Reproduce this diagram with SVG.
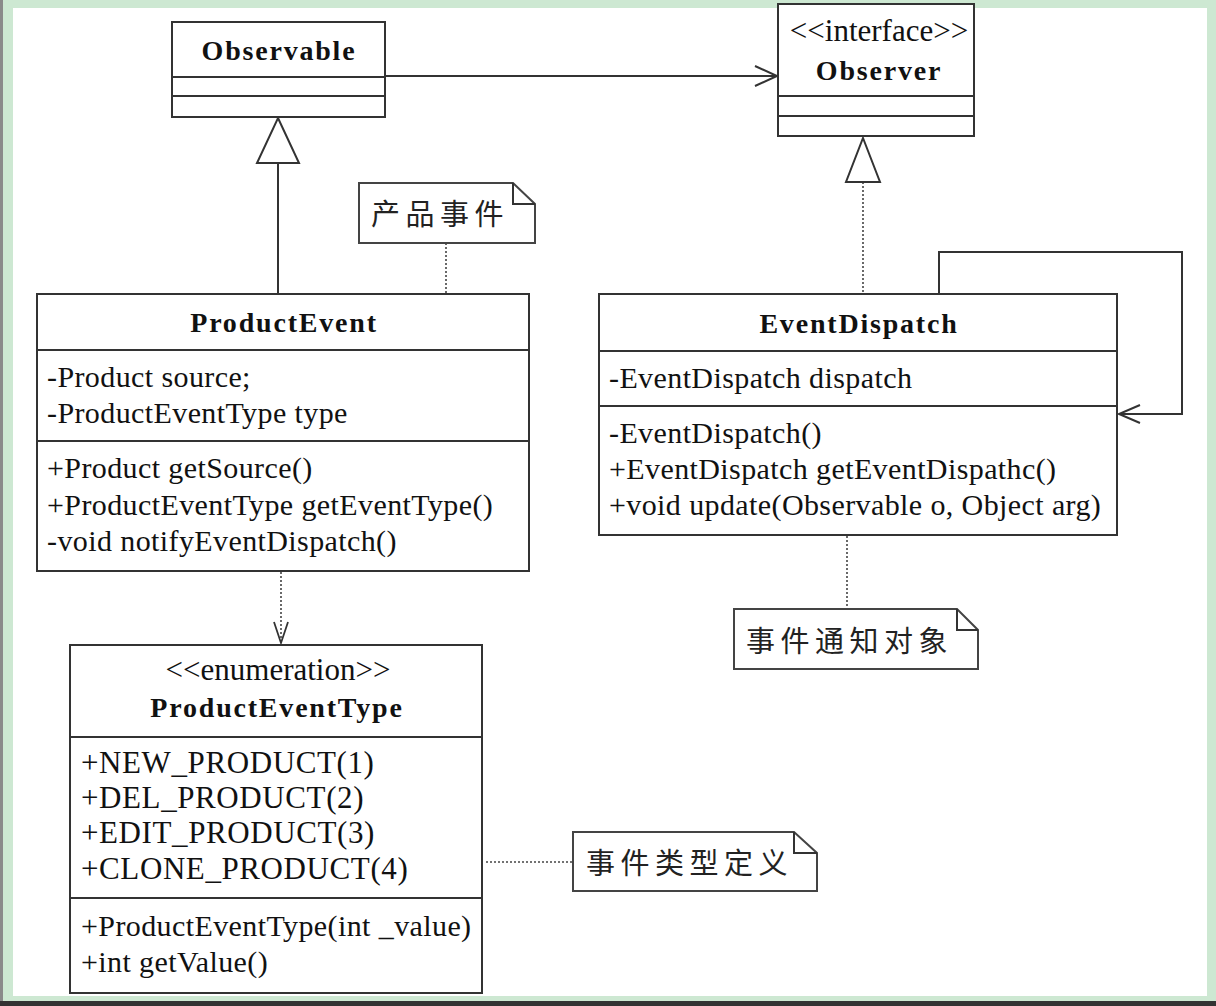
<svg xmlns="http://www.w3.org/2000/svg" width="1216" height="1006" viewBox="0 0 1216 1006">
<defs>
<style>
.box{fill:#fff;stroke:#333;stroke-width:2}
.ln{stroke:#333;stroke-width:2;fill:none}
.dot{stroke:#444;stroke-width:1.6;fill:none;stroke-dasharray:2 2}
.note{fill:#fff;stroke:#444;stroke-width:2}
.t{font-family:"Liberation Serif","Times New Roman",serif;font-size:30px;fill:#111;letter-spacing:0.4px}
.e{font-family:"Liberation Serif","Times New Roman",serif;font-size:31px;fill:#111;letter-spacing:0.6px}
.b{font-family:"Liberation Serif","Times New Roman",serif;font-size:28px;font-weight:bold;fill:#111;letter-spacing:1.8px;text-anchor:middle}
.s{font-family:"Liberation Serif","Times New Roman",serif;font-size:31px;fill:#111;text-anchor:middle}
.c{font-family:"Noto Sans CJK SC","Noto Sans",sans-serif;font-size:29px;fill:#222;letter-spacing:5.5px}
</style>
<marker id="open" markerWidth="26" markerHeight="24" refX="23" refY="11" orient="auto" markerUnits="userSpaceOnUse">
<path d="M1,1 L23,11 L1,21" fill="none" stroke="#333" stroke-width="2"/>
</marker>
</defs>

<!-- frame -->
<rect x="0" y="0" width="1216" height="1006" fill="#cde8d2"/>
<rect x="13" y="8" width="1194" height="988" fill="#fff"/>
<rect x="0" y="0" width="3" height="1006" fill="#8a8a8a"/>
<rect x="0" y="1001" width="1216" height="5" fill="#333"/>

<g id="connectors">
  <line x1="385" y1="76" x2="777" y2="76" class="ln" marker-end="url(#open)"/>
  <line x1="278" y1="163" x2="278" y2="294" class="ln"/>
  <path d="M278,118 L299,163 L257,163 Z" fill="#fff" stroke="#333" stroke-width="2"/>
  <line x1="863" y1="182" x2="863" y2="294" class="dot"/>
  <path d="M863,138 L880,182 L846,182 Z" fill="#fff" stroke="#333" stroke-width="2"/>
  <path d="M939,294 V252 H1182 V414 H1119" class="ln"/>
  <path d="M1140,405 L1119,414 L1140,423" class="ln"/>
  <line x1="281" y1="572" x2="281" y2="643" class="dot"/>
  <path d="M274,622 L281,643 L288,622" fill="none" stroke="#333" stroke-width="1.8"/>
  <line x1="446" y1="243" x2="446" y2="294" class="dot"/>
  <line x1="847" y1="536" x2="847" y2="609" class="dot"/>
  <line x1="486" y1="862" x2="573" y2="862" class="dot"/>
</g>

<g id="Observable">
  <rect x="172" y="22" width="213" height="95" class="box"/>
  <line x1="172" y1="77" x2="385" y2="77" class="ln"/>
  <line x1="172" y1="96" x2="385" y2="96" class="ln"/>
  <text x="279" y="60" class="b">Observable</text>
</g>

<g id="Observer">
  <rect x="778" y="4" width="196" height="132" class="box"/>
  <line x1="778" y1="96" x2="974" y2="96" class="ln"/>
  <line x1="778" y1="116" x2="974" y2="116" class="ln"/>
  <text x="879" y="41" class="s">&lt;&lt;interface&gt;&gt;</text>
  <text x="879" y="80" class="b">Observer</text>
</g>

<g id="ProductEvent">
  <rect x="37" y="294" width="492" height="277" class="box"/>
  <line x1="37" y1="350" x2="529" y2="350" class="ln"/>
  <line x1="37" y1="441" x2="529" y2="441" class="ln"/>
  <text x="284" y="332" class="b">ProductEvent</text>
  <text x="47" y="387" class="t">-Product source;</text>
  <text x="47" y="423" class="t">-ProductEventType type</text>
  <text x="47" y="478" class="t">+Product getSource()</text>
  <text x="47" y="515" class="t">+ProductEventType getEventType()</text>
  <text x="47" y="551" class="t">-void notifyEventDispatch()</text>
</g>

<g id="EventDispatch">
  <rect x="599" y="294" width="518" height="241" class="box"/>
  <line x1="599" y1="351" x2="1117" y2="351" class="ln"/>
  <line x1="599" y1="406" x2="1117" y2="406" class="ln"/>
  <text x="859" y="333" class="b">EventDispatch</text>
  <text x="609" y="388" class="t">-EventDispatch dispatch</text>
  <text x="609" y="443" class="t">-EventDispatch()</text>
  <text x="609" y="479" class="t">+EventDispatch getEventDispathc()</text>
  <text x="609" y="515" class="t">+void update(Observable o, Object arg)</text>
</g>

<g id="ProductEventType">
  <rect x="70" y="645" width="412" height="348" class="box"/>
  <line x1="70" y1="737" x2="482" y2="737" class="ln"/>
  <line x1="70" y1="898" x2="482" y2="898" class="ln"/>
  <text x="278" y="680" class="s">&lt;&lt;enumeration&gt;&gt;</text>
  <text x="277" y="717" class="b">ProductEventType</text>
  <text x="81" y="773" class="e">+NEW_PRODUCT(1)</text>
  <text x="81" y="808" class="e">+DEL_PRODUCT(2)</text>
  <text x="81" y="843" class="e">+EDIT_PRODUCT(3)</text>
  <text x="81" y="879" class="e">+CLONE_PRODUCT(4)</text>
  <text x="81" y="936" class="t">+ProductEventType(int _value)</text>
  <text x="81" y="972" class="t">+int getValue()</text>
</g>

<g id="note-product-event">
  <path d="M359,183 H513 L535,204 V243 H359 Z" class="note"/>
  <path d="M513,183 V204 H535" class="ln" stroke="#444"/>
  <text x="371" y="225" class="c">产品事件</text>
</g>

<g id="note-event-dispatch">
  <path d="M734,609 H957 L978,630 V669 H734 Z" class="note"/>
  <path d="M957,609 V630 H978" class="ln" stroke="#444"/>
  <text x="746" y="652" class="c">事件通知对象</text>
</g>

<g id="note-event-type">
  <path d="M573,832 H794 L817,853 V891 H573 Z" class="note"/>
  <path d="M794,832 V853 H817" class="ln" stroke="#444"/>
  <text x="586" y="874" class="c">事件类型定义</text>
</g>
</svg>
